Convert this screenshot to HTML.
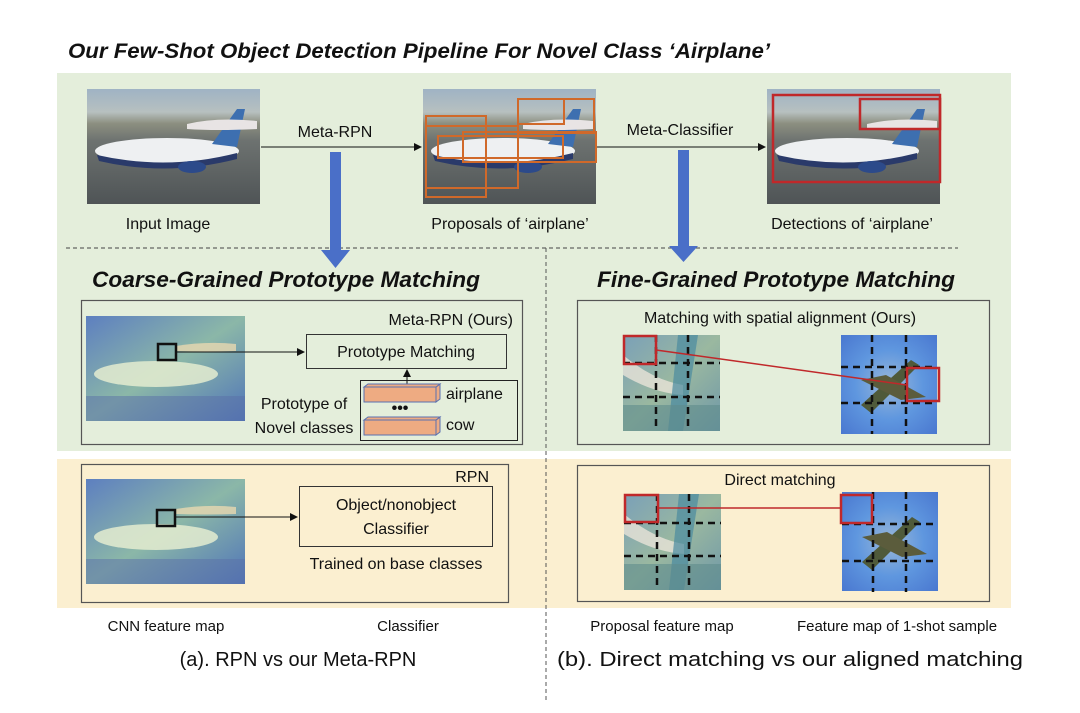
<!DOCTYPE html>
<html><head><meta charset="utf-8"><style>
html,body{margin:0;padding:0;background:#fff;width:1080px;height:713px;overflow:hidden}
text{font-family:"Liberation Sans",sans-serif;fill:#111}
.bi{font-weight:bold;font-style:italic}
</style></head><body>
<svg width="1080" height="713" viewBox="0 0 1080 713" xmlns="http://www.w3.org/2000/svg">
<defs>
<linearGradient id="photo" x1="0" y1="0" x2="0" y2="1">
<stop offset="0" stop-color="#9fb3c4"/><stop offset="0.2" stop-color="#b7c0c0"/><stop offset="0.3" stop-color="#8c8f80"/><stop offset="0.45" stop-color="#6d7270"/><stop offset="1" stop-color="#4f5456"/>
</linearGradient>
<linearGradient id="feat" x1="0" y1="0" x2="1" y2="1">
<stop offset="0" stop-color="#5d7fc0"/><stop offset="0.5" stop-color="#8bb7a8"/><stop offset="1" stop-color="#4f74b8"/>
</linearGradient>
<radialGradient id="blue" cx="0.5" cy="0.5" r="0.7">
<stop offset="0" stop-color="#9ab7d8"/><stop offset="0.5" stop-color="#5f97df"/><stop offset="1" stop-color="#4a78d0"/>
</radialGradient>
<linearGradient id="prop" x1="0" y1="0" x2="1" y2="1">
<stop offset="0" stop-color="#7aa0b8"/><stop offset="0.5" stop-color="#9ab8a0"/><stop offset="1" stop-color="#6f98a8"/>
</linearGradient>
<marker id="ah" markerWidth="8" markerHeight="8" refX="7" refY="4" orient="auto" markerUnits="userSpaceOnUse"><path d="M0,0 L8,4 L0,8z" fill="#111"/></marker>
<g id="photoimg">
<rect width="173" height="115" fill="url(#photo)"/>
<ellipse cx="80" cy="62" rx="72" ry="13" fill="#eef0f2"/>
<path d="M10,66 Q80,82 150,64 L150,70 Q80,88 12,72z" fill="#2a3a6a"/>
<path d="M125,55 L150,20 L158,20 L150,58z" fill="#3d6fb0"/>
<path d="M100,35 Q130,28 170,32 L170,40 Q130,42 100,40z" fill="#e8e4e4"/>
<ellipse cx="105" cy="78" rx="14" ry="6" fill="#2c4a8a"/>
</g>
<g id="featimg">
<rect width="159" height="105" fill="url(#feat)"/>
<ellipse cx="70" cy="58" rx="62" ry="13" fill="#e4ecd0" opacity="0.85"/>
<path d="M90,30 Q120,25 150,28 L150,35 Q120,36 90,35z" fill="#e8d8b0" opacity="0.8"/>
<rect y="80" width="159" height="25" fill="#5a70a8" opacity="0.5"/>
</g>
<g id="propimg">
<rect width="97" height="96" fill="url(#prop)"/>
<path d="M0,20 Q30,45 60,50 L60,60 Q30,58 0,40z" fill="#e8e4d8" opacity="0.8"/>
<path d="M55,0 L75,0 L60,96 L45,96z" fill="#4a8aa0" opacity="0.7"/>
<rect y="70" width="97" height="26" fill="#5f8c8c" opacity="0.6"/>
</g>
<g id="bomb">
<rect width="96" height="99" fill="url(#blue)"/>
<path d="M20,70 L70,25 L78,30 L30,78z" fill="#4f5a3a"/>
<path d="M20,45 L60,65 L85,62 L45,40z" fill="#5b5c3c"/>
</g>
</defs>

<text x="68" y="58" class="bi" font-size="21" textLength="702" lengthAdjust="spacingAndGlyphs">Our Few-Shot Object Detection Pipeline For Novel Class ‘Airplane’</text>

<rect x="57" y="73" width="954" height="378" fill="#e4eedb"/>
<rect x="57" y="459" width="954" height="149" fill="#fbefd0"/>

<!-- top images -->
<use href="#photoimg" x="87" y="89"/>
<use href="#photoimg" x="423" y="89"/>
<use href="#photoimg" x="767" y="89"/>
<g fill="none" stroke="#d0692a" stroke-width="2">
<rect x="518" y="99" width="76" height="34"/><rect x="518" y="99" width="46" height="25"/>
<rect x="426" y="116" width="60" height="81"/><rect x="426" y="126" width="92" height="62"/>
<rect x="438" y="136" width="125" height="22"/><rect x="463" y="132" width="133" height="30"/>
</g>
<g fill="none" stroke="#c0282a" stroke-width="2.5">
<rect x="773" y="95" width="167" height="87"/><rect x="860" y="99" width="80" height="30"/>
</g>
<line x1="261" y1="147" x2="421" y2="147" stroke="#111" stroke-width="1" marker-end="url(#ah)"/>
<line x1="597" y1="147" x2="765" y2="147" stroke="#111" stroke-width="1" marker-end="url(#ah)"/>
<text x="335" y="137" font-size="16" text-anchor="middle">Meta-RPN</text>
<text x="680" y="135" font-size="16" text-anchor="middle">Meta-Classifier</text>
<text x="168" y="229" font-size="16" text-anchor="middle">Input Image</text>
<text x="510" y="229" font-size="16" text-anchor="middle">Proposals of ‘airplane’</text>
<text x="852" y="229" font-size="16" text-anchor="middle">Detections of ‘airplane’</text>

<line x1="66" y1="248" x2="958" y2="248" stroke="#444" stroke-width="1" stroke-dasharray="4,3"/>
<line x1="546" y1="248" x2="546" y2="700" stroke="#555" stroke-width="1" stroke-dasharray="4,3"/>

<!-- blue arrows -->
<path d="M330,152 H341 V250 H350 L335.5,268 L321,250 H330z" fill="#4a6fc8"/>
<path d="M678,150 H689 V246 H698 L683.5,262 L669,246 H678z" fill="#4a6fc8"/>

<text x="92" y="287" class="bi" font-size="22" textLength="388" lengthAdjust="spacingAndGlyphs">Coarse-Grained Prototype Matching</text>
<text x="597" y="287" class="bi" font-size="22" textLength="358" lengthAdjust="spacingAndGlyphs">Fine-Grained Prototype Matching</text>

<!-- coarse box -->
<rect x="81.5" y="300.5" width="441" height="144" fill="none" stroke="#555" stroke-width="1.2"/>
<use href="#featimg" x="86" y="316"/>
<rect x="158" y="344" width="18" height="16" fill="none" stroke="#111" stroke-width="2.5"/>
<line x1="176" y1="352" x2="304" y2="352" stroke="#111" stroke-width="1" marker-end="url(#ah)"/>
<text x="513" y="325" font-size="16" text-anchor="end">Meta-RPN (Ours)</text>
<rect x="306.5" y="334.5" width="200" height="34" fill="none" stroke="#333" stroke-width="1"/>
<text x="406" y="357" font-size="16" text-anchor="middle">Prototype Matching</text>
<rect x="360.5" y="380.5" width="157" height="60" fill="none" stroke="#222" stroke-width="1"/>
<line x1="407" y1="385" x2="407" y2="370" stroke="#111" stroke-width="1" marker-end="url(#ah)"/>
<g fill="#eeab82" stroke="#5a70b0" stroke-width="1">
<rect x="364" y="387" width="72" height="15"/><path d="M436,387 l4,-3 v15 l-4,3z"/><path d="M364,387 l4,-3 h72 l-4,3z"/>
<rect x="364" y="420" width="72" height="15"/><path d="M436,420 l4,-3 v15 l-4,3z"/><path d="M364,420 l4,-3 h72 l-4,3z"/>
</g>
<text x="400" y="413" font-size="16" text-anchor="middle" font-weight="bold">•••</text>
<text x="446" y="399" font-size="16">airplane</text>
<text x="446" y="430" font-size="16">cow</text>
<text x="304" y="409" font-size="16" text-anchor="middle">Prototype of</text>
<text x="304" y="433" font-size="16" text-anchor="middle">Novel classes</text>

<!-- fine box -->
<rect x="577.5" y="300.5" width="412" height="144" fill="none" stroke="#555" stroke-width="1.2"/>
<text x="780" y="323" font-size="16" text-anchor="middle">Matching with spatial alignment (Ours)</text>
<use href="#propimg" x="623" y="335"/>
<use href="#bomb" x="841" y="335"/>
<g stroke="#111" stroke-width="2.5" stroke-dasharray="7,5" fill="none">
<line x1="623" y1="363" x2="720" y2="363"/><line x1="623" y1="397" x2="720" y2="397"/>
<line x1="656" y1="335" x2="656" y2="431"/><line x1="688" y1="335" x2="688" y2="431"/>
<line x1="841" y1="367" x2="937" y2="367"/><line x1="841" y1="403" x2="937" y2="403"/>
<line x1="872" y1="335" x2="872" y2="434"/><line x1="906" y1="335" x2="906" y2="434"/>
</g>
<rect x="624" y="336" width="32" height="28" fill="none" stroke="#c0282a" stroke-width="2.5"/>
<rect x="907" y="368" width="32" height="33" fill="none" stroke="#c0282a" stroke-width="2.5"/>
<line x1="656" y1="350" x2="907" y2="385" stroke="#c0282a" stroke-width="1.5"/>

<!-- RPN box -->
<rect x="81.5" y="464.5" width="427" height="138" fill="none" stroke="#555" stroke-width="1.2"/>
<use href="#featimg" x="86" y="479"/>
<rect x="157" y="510" width="18" height="16" fill="none" stroke="#111" stroke-width="2.5"/>
<line x1="175" y1="517" x2="297" y2="517" stroke="#111" stroke-width="1" marker-end="url(#ah)"/>
<text x="489" y="482" font-size="16" text-anchor="end">RPN</text>
<rect x="299.5" y="486.5" width="193" height="60" fill="none" stroke="#333" stroke-width="1"/>
<text x="396" y="510" font-size="16" text-anchor="middle">Object/nonobject</text>
<text x="396" y="534" font-size="16" text-anchor="middle">Classifier</text>
<text x="396" y="569" font-size="16" text-anchor="middle">Trained on base classes</text>

<!-- direct box -->
<rect x="577.5" y="465.5" width="412" height="136" fill="none" stroke="#555" stroke-width="1.2"/>
<text x="780" y="485" font-size="16" text-anchor="middle">Direct matching</text>
<use href="#propimg" x="624" y="494"/>
<use href="#bomb" x="842" y="492"/>
<g stroke="#111" stroke-width="2.5" stroke-dasharray="7,5" fill="none">
<line x1="624" y1="523" x2="721" y2="523"/><line x1="624" y1="556" x2="721" y2="556"/>
<line x1="657" y1="494" x2="657" y2="590"/><line x1="689" y1="494" x2="689" y2="590"/>
<line x1="842" y1="524" x2="937" y2="524"/><line x1="842" y1="561" x2="937" y2="561"/>
<line x1="873" y1="492" x2="873" y2="592"/><line x1="906" y1="492" x2="906" y2="592"/>
</g>
<rect x="625" y="495" width="33" height="27" fill="none" stroke="#c0282a" stroke-width="2.5"/>
<rect x="841" y="495" width="31" height="28" fill="none" stroke="#c0282a" stroke-width="2.5"/>
<line x1="658" y1="508" x2="841" y2="508" stroke="#c0282a" stroke-width="1.5"/>

<!-- bottom labels -->
<text x="166" y="631" font-size="15" text-anchor="middle">CNN feature map</text>
<text x="408" y="631" font-size="15" text-anchor="middle">Classifier</text>
<text x="662" y="631" font-size="15" text-anchor="middle">Proposal feature map</text>
<text x="897" y="631" font-size="15" text-anchor="middle">Feature map of 1-shot sample</text>
<text x="298" y="666" font-size="20" text-anchor="middle">(a). RPN vs our Meta-RPN</text>
<text x="790" y="666" font-size="20" text-anchor="middle" textLength="466" lengthAdjust="spacingAndGlyphs">(b). Direct matching vs our aligned matching</text>
</svg>
</body></html>
